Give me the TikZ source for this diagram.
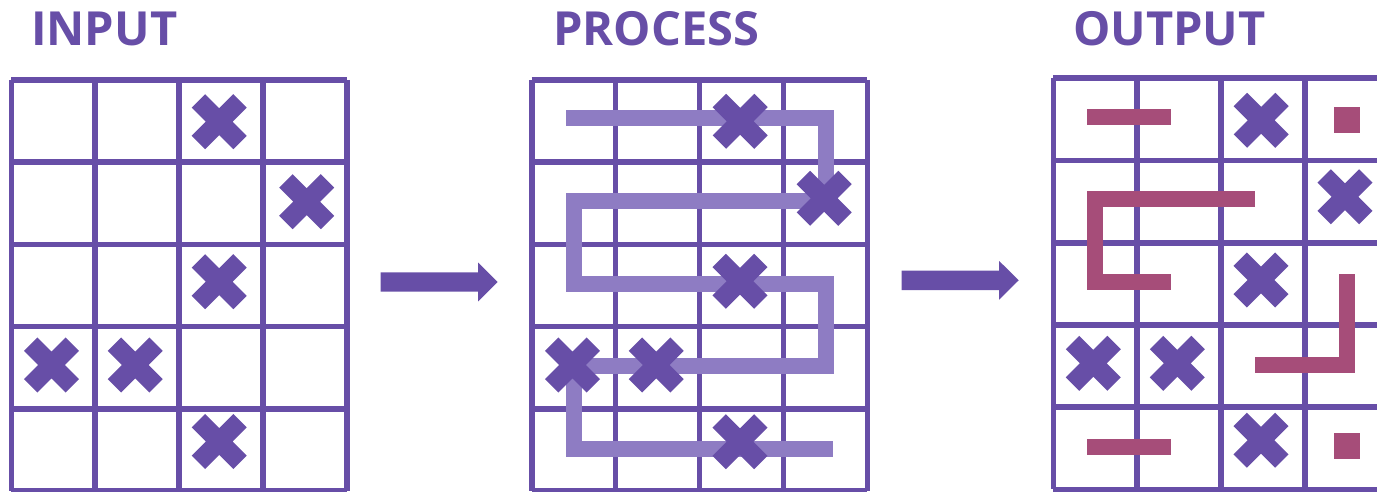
\documentclass[tikz,border=0pt]{standalone}
\usepackage{fontspec}
\setmainfont{Open Sans}
\definecolor{deeppurple}{HTML}{674EA7}
\definecolor{lightpurple}{HTML}{8E7CC3}
\definecolor{plum}{HTML}{A64D79}

% 4 x 5 board: #1 = left edge, #2 = top edge
\newcommand\drawboard[2]{%
  \foreach \i in {0,...,4}
    \draw[gridline] ({#1+\i*83.9},#2) -- ({#1+\i*83.9},{#2+411});
  \foreach \j in {0,...,5}
    \draw[gridline] (#1,{#2+\j*82.2}) -- ({#1+335.6},{#2+\j*82.2});
}

\begin{document}
\begin{tikzpicture}[x=1pt,y=-1pt,
  gridline/.style={draw=deeppurple, line width=5.6pt, line cap=square},
  route/.style={draw=lightpurple, line width=16pt, line join=miter, line cap=butt},
  result/.style={draw=plum, line width=16pt, line join=miter, line cap=butt},
  title/.style={text=deeppurple, font=\bfseries\fontsize{47}{47}\selectfont,
                anchor=base west, inner sep=0pt},
  cross/.pic={\draw[deeppurple, line width=19pt, line cap=butt]
                (-20.8,-20.8) -- (20.8,20.8) (-20.8,20.8) -- (20.8,-20.8);},
  flowarrow/.pic={\fill[deeppurple] (0,-9.7) -- (97.5,-9.7) -- (97.5,-19.3)
                -- (117,0) -- (97.5,19.3) -- (97.5,9.7) -- (0,9.7) -- cycle;}
]
\useasboundingbox (0,0) rectangle (1377,492);
\clip (0,0) rectangle (1377,492);

% titles
\node[title] (input)   at (31,45.5)   {INPUT};
\node[title] (process) at (553,45.5)  {PROCESS};
\node[title] (output)  at (1073,45.5) {OUTPUT};

% boards
\drawboard{11.3}{80}
\drawboard{531.7}{80}
\drawboard{1053.3}{78.3}

% input marks
\foreach \p in {(219.2,121.7),(306.7,201.7),(219.2,281.7),(51.5,365),(135.2,365),(219.2,441.5)}
  \pic at \p {cross};

% serpentine scan through the middle board
\draw[route] (566,118) -- (826,118) -- (826,201) -- (574,201) -- (574,284)
  -- (826,284) -- (826,366) -- (574,366) -- (574,449) -- (833,449);
\foreach \p in {(740.2,121.3),(824.2,198.3),(740,281.3),(572.5,365),(656.2,365),(740,441.7)}
  \pic at \p {cross};

% resulting segments on the output board
\draw[result] (1087,117) -- (1171,117);
\fill[plum] (1334,107) rectangle (1360,133);
\draw[result] (1255,199.5) -- (1095,199.5) -- (1095,282.3) -- (1171,282.3);
\draw[result] (1347,274.3) -- (1347,364.8) -- (1255,364.8);
\draw[result] (1087,447.3) -- (1171,447.3);
\fill[plum] (1334,433) rectangle (1360,459);
\foreach \p in {(1261.2,120.3),(1345,196.8),(1261,280),(1093.3,363.3),(1177.3,363.3),(1261,440.2)}
  \pic at \p {cross};

% arrows between stages
\pic at (380.7,282) {flowarrow};
\pic at (901.7,280.3) {flowarrow};
\end{tikzpicture}
\end{document}
